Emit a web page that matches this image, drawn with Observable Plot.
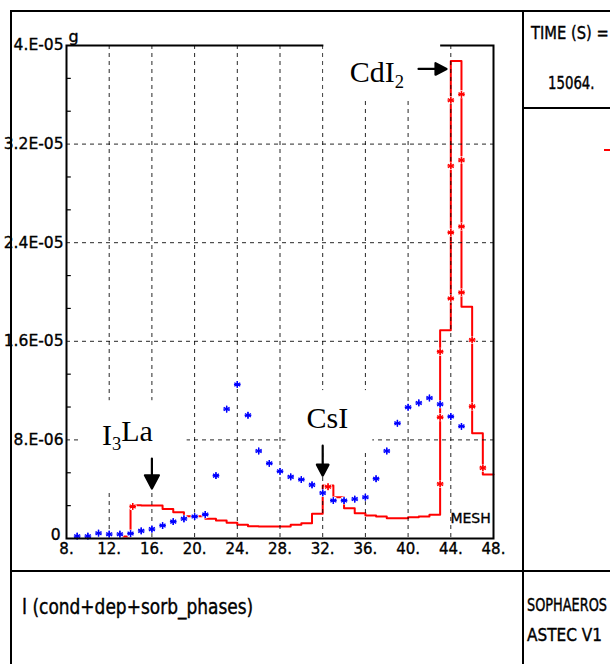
<!DOCTYPE html>
<html>
<head>
<meta charset="utf-8">
<script src="https://cdn.jsdelivr.net/npm/d3@7"></script>
<script src="https://cdn.jsdelivr.net/npm/@observablehq/plot@0.6"></script>
<style>
  body { margin: 0; background: #fff; }
  #page { position: relative; width: 610px; height: 664px; overflow: hidden; background: #fff; }
  #chart { position: absolute; left: 0; top: 0; }
  .rule { position: absolute; background: #000; }
  .lbl { position: absolute; font-family: "DejaVu Sans", sans-serif; color: #000; white-space: nowrap;
         line-height: 1; -webkit-text-stroke: 0.35px #000; transform-origin: 0 0; }
</style>
</head>
<body>
<div id="page">
  <div id="chart"></div>
  <!-- sheet frame and panel dividers -->
  <div class="rule" style="left:10px;top:10px;width:2px;height:654px"></div>
  <div class="rule" style="left:10px;top:10px;width:600px;height:2px"></div>
  <div class="rule" style="left:522px;top:10px;width:2px;height:654px"></div>
  <div class="rule" style="left:10px;top:570px;width:600px;height:2px"></div>
  <div class="rule" style="left:522px;top:107px;width:88px;height:2px"></div>
  <div class="rule" style="left:604px;top:149px;width:6px;height:2px;background:#ff0000"></div>
  <div class="lbl" style="left:531px;top:25px;font-size:15px;transform:scale(0.98,1.2)">TIME (S) =</div>
  <div class="lbl" style="left:548px;top:75px;font-size:14px;transform:scale(0.95,1.2)">15064.</div>
  <div class="lbl" style="left:22px;top:597px;font-size:17px;transform:scale(1.0,1.2)">I (cond+dep+sorb_phases)</div>
  <div class="lbl" style="left:527px;top:596px;font-size:14px;transform:scale(0.92,1.25)">SOPHAEROS</div>
  <div class="lbl" style="left:527px;top:627px;font-size:15px;transform:scale(1.02,1.2)">ASTEC V1</div>
</div>
<script>
// Iodine mass (g) per mesh, airborne phase (blue stars)
const blueMesh = [9, 10, 11, 12, 13, 14, 15, 16, 17, 18, 19, 20, 21, 22, 23, 24, 25, 26, 27,
                  28, 29, 30, 31, 32, 33, 34, 35, 36, 37, 38, 39, 40, 41, 42, 43, 44, 45];
const blueMass = [1.9e-7, 1.9e-7, 4.3e-7, 3.5e-7, 3.5e-7, 4.0e-7, 6.2e-7, 7.6e-7, 1.05e-6, 1.37e-6,
                  1.6e-6, 1.78e-6, 1.95e-6, 5.1e-6, 1.05e-5, 1.25e-5, 1.0e-5, 7.1e-6, 6.1e-6,
                  5.45e-6, 5.0e-6, 4.78e-6, 4.35e-6, 3.7e-6, 3.08e-6, 3.08e-6, 3.2e-6, 3.35e-6,
                  4.85e-6, 7.1e-6, 9.35e-6, 1.065e-5, 1.1e-5, 1.14e-5, 1.09e-5, 9.9e-6, 9.1e-6];

// Iodine in condensed + deposited + sorbed phases per mesh (red staircase; last entry closes the final step)
const redMesh = [13, 14, 15, 16, 17, 18, 19, 20, 21, 22, 23, 24, 25, 26, 27, 28, 29, 30, 31, 32,
                 33, 34, 35, 36, 37, 38, 39, 40, 41, 42, 43, 44, 45, 46, 47, 48];
const redMass = [1.6e-7, 2.7e-6, 2.68e-6, 2.68e-6, 2.4e-6, 2.13e-6, 1.81e-6, 1.81e-6, 1.6e-6, 1.46e-6,
                 1.27e-6, 1.11e-6, 1.0e-6, 9.7e-7, 9.7e-7, 9.7e-7, 1.11e-6, 1.24e-6, 2.0e-6, 4.3e-6,
                 3.35e-6, 2.46e-6, 2.05e-6, 1.86e-6, 1.78e-6, 1.65e-6, 1.65e-6, 1.73e-6, 1.78e-6, 1.92e-6,
                 1.69e-5, 3.875e-5, 1.88e-5, 8.53e-6, 5.19e-6, 5.19e-6];

// Symbol markers placed along the red curve
const redMarkX = [14.2, 32.5, 43, 43, 43, 44, 44, 44, 44, 45, 45, 45, 45, 46, 46, 47];
const redMarkY = [2.6e-6, 4.2e-6, 4.43e-6, 9.83e-6, 1.516e-5, 1.948e-5, 2.483e-5, 3.023e-5, 3.556e-5,
                  3.604e-5, 3.07e-5, 2.531e-5, 1.996e-5, 1.611e-5, 1.072e-5, 5.73e-6];

// Axes
const xTicks = [8, 12, 16, 20, 24, 28, 32, 36, 40, 44, 48];
const xTickLabels = ["8.", "12.", "16.", "20.", "24.", "28.", "32.", "36.", "40.", "44.", "48."];
const xGrid = [12, 16, 20, 24, 28, 32, 36, 40, 44];
const yTicks = [8e-6, 1.6e-5, 2.4e-5, 3.2e-5, 4e-5];
const yTickLabels = ["8.E-06", "1.6E-05", "2.4E-05", "3.2E-05", "4.E-05"];
const yZeroLabel = "0";
const yGrid = [8e-6, 1.6e-5, 2.4e-5, 3.2e-5];
const yMinor = [2.667e-6, 5.333e-6, 1.0667e-5, 1.3333e-5, 1.8667e-5, 2.1333e-5,
                2.6667e-5, 2.9333e-5, 3.4667e-5, 3.7333e-5];

// Species annotations ("_" marks a subscript digit)
const labelText = ["I_3La", "CsI", "CdI_2"];
const labelX = [13.7, 32.44, 37.07];
const labelY = [8.39e-6, 9.77e-6, 3.781e-5];
const boxX1 = [9.4, 28.56, 32.11];
const boxX2 = [19.3, 36.69, 43.05];
const boxY1 = [3.89e-6, 6.97e-6, 3.566e-5];
const boxY2 = [1.118e-5, 1.2e-5, 4.07e-5];
const arrowX = [16, 32, 43.6];
const arrowY = [4.05e-6, 5.1e-6, 3.81e-5];
const arrowRotate = [180, 180, 90];
const arrowLength = [30, 30, 28];
const arrowHead = [7, 5.8, 5.8];

const blue = blueMesh.map((m, i) => ({mesh: m, mass: blueMass[i]}));
const red = redMesh.map((m, i) => ({mesh: m, mass: redMass[i]}));
const redMarks = redMarkX.map((m, i) => ({mesh: m, mass: redMarkY[i]}));
const labels = labelText.map((t, i) => ({text: t, x: labelX[i], y: labelY[i]}));
const boxes = boxX1.map((x1, i) => ({x1, x2: boxX2[i], y1: boxY1[i], y2: boxY2[i]}));

const xLabel = new Map(xTicks.map((t, i) => [t, xTickLabels[i]]));
const yLabel = new Map(yTicks.map((t, i) => [t, yTickLabels[i]]));

// Filled-head arrow drawn pointing "up" in the vector's local frame
const filledArrow = {
  draw(context, l, r) {
    const head = r * 1.9;
    context.moveTo(0, 0);
    context.lineTo(0, -l + head);
    context.moveTo(0, -l);
    context.lineTo(-r, -l + head);
    context.lineTo(r, -l + head);
    context.closePath();
  }
};

const starMarks = (data, color) => [
  Plot.dot(data, {x: "mesh", y: "mass", r: 4, fill: "white", stroke: "none"}),
  Plot.dot(data, {x: "mesh", y: "mass", symbol: "asterisk", r: 3.2, stroke: color, strokeWidth: 1.3}),
  Plot.dot(data, {x: "mesh", y: "mass", symbol: "plus", r: 2.3, stroke: color, strokeWidth: 1.3})
];

const chart = Plot.plot({
  width: 523,
  height: 571,
  marginLeft: 66,
  marginRight: 30,
  marginTop: 45,
  marginBottom: 33,
  style: {
    background: "transparent",
    fontFamily: "'DejaVu Sans', sans-serif",
    fontSize: "15px",
    color: "black",
    overflow: "visible"
  },
  x: {domain: [8, 48]},
  y: {domain: [0, 4e-5]},
  marks: [
    Plot.line(red, {x: "mesh", y: "mass", curve: "step-after", stroke: "#ff0000", strokeWidth: 2}),
    Plot.gridX(xGrid, {stroke: "#000", strokeOpacity: 0.85, strokeDasharray: "4,4"}),
    Plot.gridY(yGrid, {stroke: "#000", strokeOpacity: 0.85, strokeDasharray: "4,4"}),
    ...starMarks(redMarks, "#ff0000"),
    ...starMarks(blue, "#0000ff"),
    Plot.frame({stroke: "black", strokeWidth: 2}),
    Plot.ruleY(yMinor, {x1: 8, x2: 8.45, stroke: "black", strokeWidth: 1.2}),
    Plot.rect(boxes, {x1: "x1", x2: "x2", y1: "y1", y2: "y2", fill: "white"}),
    Plot.text(labels, {x: "x", y: "y", text: "text", fontFamily: "'Liberation Serif', 'DejaVu Serif', serif",
                       fontSize: 30, fill: "black", className: "species"}),
    ...arrowX.map((_, i) => Plot.vector([i], {
      x: (j) => arrowX[j], y: (j) => arrowY[j], rotate: arrowRotate[i], length: arrowLength[i],
      anchor: "end", shape: filledArrow, r: arrowHead[i], stroke: "black", fill: "black", strokeWidth: 2.2
    })),
    Plot.text(["MESH"], {x: 45.85, y: 1.62e-6, text: (d) => d, fontSize: 14, className: "plotter"}),
    Plot.text(["g"], {x: 8, y: 4e-5, text: (d) => d, textAnchor: "start", dx: 2, dy: -9, fontSize: 16, className: "plotter"}),
    Plot.axisX(xTicks, {tickSize: 0, tickPadding: 5, fontSize: 15, tickFormat: (d) => xLabel.get(d)}),
    Plot.axisY(yTicks, {tickSize: 0, tickPadding: 3, fontSize: 15.5, tickFormat: (d) => yLabel.get(d)}),
    Plot.axisY([0], {tickSize: 0, tickPadding: 6, dy: -3, fontSize: 15.5, tickFormat: () => yZeroLabel})
  ]
});

// Render "_d" in species names as subscript digits
d3.select(chart).selectAll("g.species text").each(function () {
  const parts = this.textContent.split(/_(\d)/);
  const text = d3.select(this).text("");
  parts.forEach((p, k) => {
    if (!p) return;
    if (k % 2 === 1) {
      text.append("tspan").attr("font-size", "0.62em").attr("dy", "0.3em").text(p);
    } else {
      const t = text.append("tspan").text(p);
      if (k > 0) t.attr("dy", "-0.3em");
    }
  });
});

// Heavier pen stroke for the axis and caption lettering
d3.select(chart).selectAll("text")
  .filter(function () { return !this.closest("g.species"); })
  .attr("stroke", "black").attr("stroke-width", 0.35);

document.getElementById("chart").append(chart);
</script>
</body>
</html>
